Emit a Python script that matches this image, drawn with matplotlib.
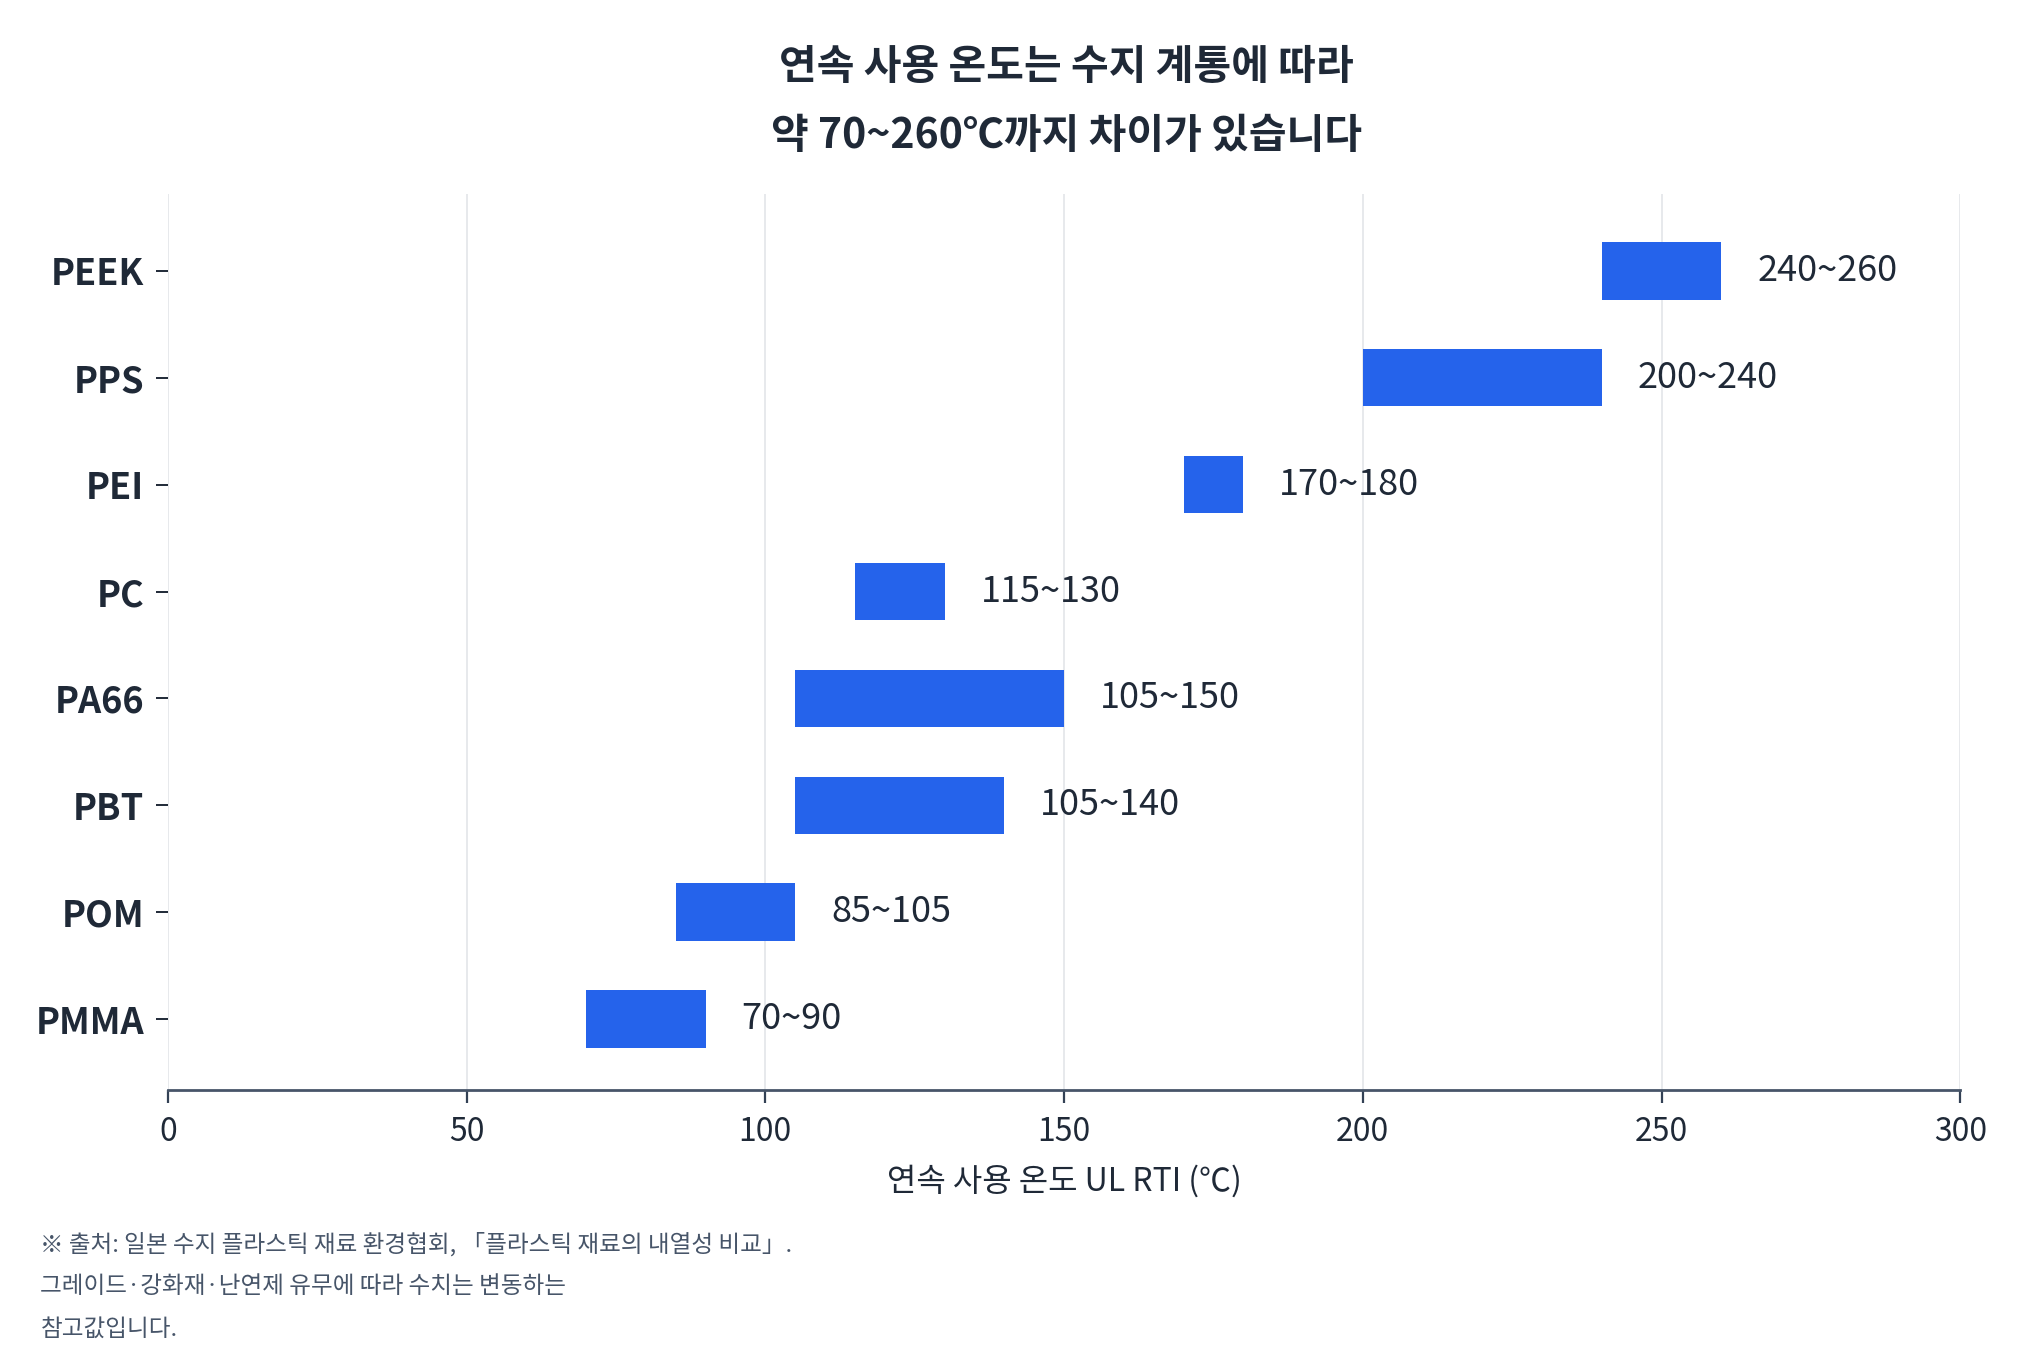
import numpy as np
import matplotlib
matplotlib.use("Agg")
from matplotlib import pyplot as plt

plt.rcParams['font.family'] = ['Noto Sans CJK KR', 'DejaVu Sans']

# data
materials = ["PMMA", "POM", "PBT", "PA66", "PC", "PEI", "PPS", "PEEK"]
low = [70, 85, 105, 105, 115, 170, 200, 240]
high = [90, 105, 140, 150, 130, 180, 240, 260]
x_ticks = [0, 50, 100, 150, 200, 250, 300]

bar_color = "#2563eb"
text_color = "#1f2937"

fig = plt.figure(figsize=(20.23, 13.64), dpi=100)
ax = fig.add_axes([0.083, 0.201, 0.886, 0.657])

y = np.arange(len(materials))
widths = [h - l for l, h in zip(low, high)]
ax.barh(y, widths, left=low, height=0.54, color=bar_color, zorder=3)

# labels next to the bars
for i in range(len(materials)):
    ax.text(high[i] + 6, y[i], f"{low[i]}~{high[i]}", va="center", ha="left",
            fontsize=26, color=text_color)

ax.set_xlim(0, 300)
ax.set_ylim(-0.66, 7.72)
ax.set_xticks(x_ticks)
ax.set_xticklabels([str(t) for t in x_ticks], fontsize=23, color=text_color)
ax.set_yticks(y)
ax.set_yticklabels(materials, fontsize=26, fontweight="bold", color=text_color)
ax.tick_params(axis="x", length=9, width=1.6, color="#334155", pad=10)
ax.tick_params(axis="y", length=9, width=1.4, color=text_color, pad=8)

ax.grid(axis="x", color="#e5e7eb", linewidth=1.3, zorder=0)
for s in ["top", "right", "left"]:
    ax.spines[s].set_visible(False)
ax.spines["bottom"].set_color("#475569")
ax.spines["bottom"].set_linewidth(2)

ax.set_xlabel("연속 사용 온도 UL RTI (℃)", fontsize=23, color=text_color, labelpad=12)

fig.text(0.527, 0.951, "연속 사용 온도는 수지 계통에 따라", ha="center", va="center",
         fontsize=29.5, fontweight="bold", color=text_color)
fig.text(0.527, 0.9, "약 70~260℃까지 차이가 있습니다", ha="center", va="center",
         fontsize=29.5, fontweight="bold", color=text_color)

notes = ["※ 출처: 일본 수지 플라스틱 재료 환경협회, 「플라스틱 재료의 내열성 비교」.",
         "그레이드·강화재·난연제 유무에 따라 수치는 변동하는",
         "참고값입니다."]
for k, line in enumerate(notes):
    fig.text(0.02, 0.088 - k * 0.0314, line, ha="left", va="center",
             fontsize=17, color="#475569")

fig.savefig("out.png", dpi=100, facecolor="white")
